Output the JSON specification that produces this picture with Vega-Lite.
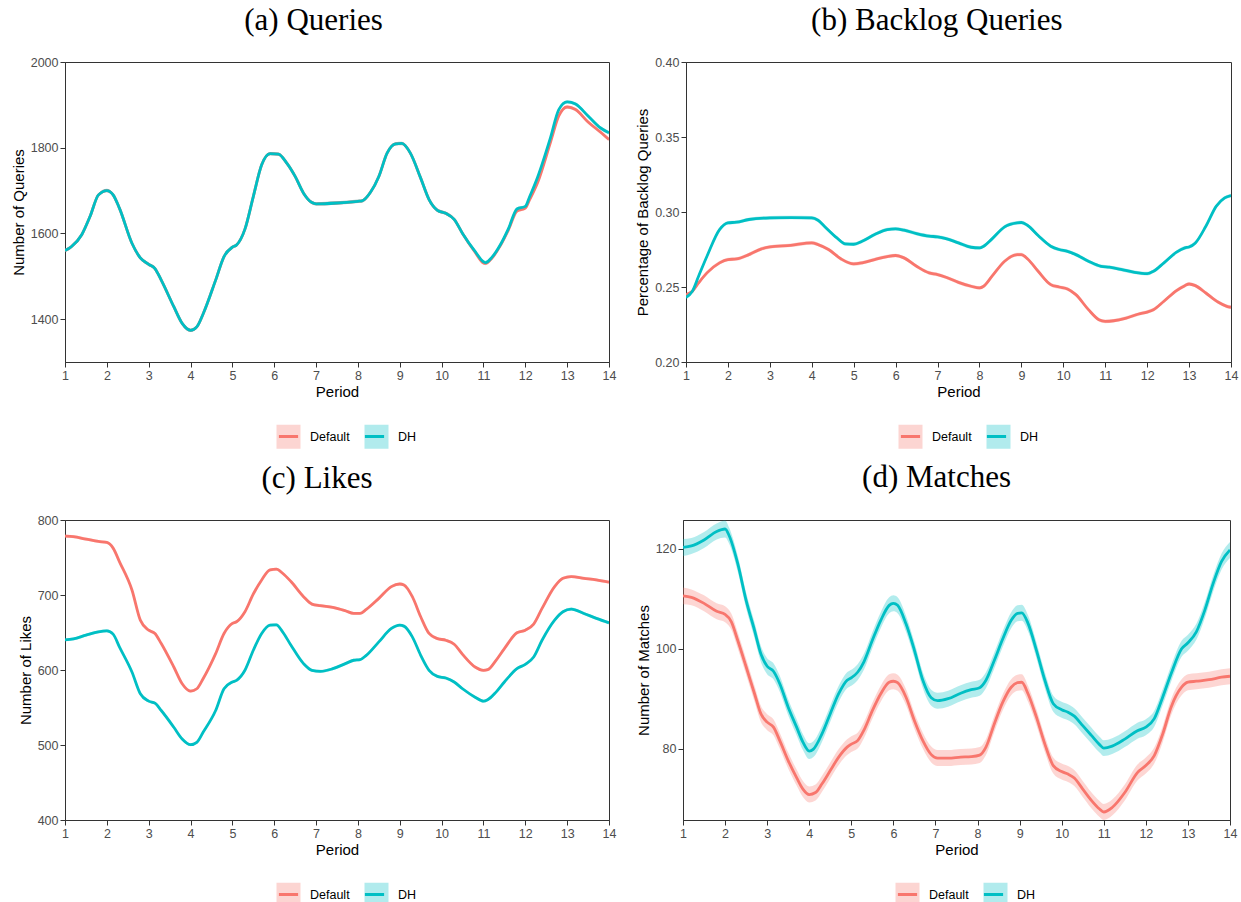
{
"$schema":"https://vega.github.io/schema/vega-lite/v6.json",
"padding":{"left":10,"top":4,"right":2,"bottom":0},
"background":"white",
"config":{
 "view":{"stroke":"#333333","strokeWidth":1},
 "axis":{"labelFont":"Liberation Sans","labelFontSize":12.5,"labelColor":"#4d4d4d","titleFont":"Liberation Sans","titleFontSize":15,"titleFontWeight":"normal","titleColor":"#000000","tickColor":"#333333","domainColor":"#333333","tickSize":5,"labelPadding":2,"grid":false,"titlePadding":4},
 "axisX":{"titlePadding":3,"labelFlush":false},
 "title":{"font":"Liberation Serif","fontSize":31,"fontWeight":"normal","color":"#000000","offset":19,"frame":"bounds"},
 "legend":{"labelFont":"Liberation Sans","labelFontSize":12.5,"labelColor":"#000000","orient":"none","direction":"horizontal","labelOffset":8,"columnPadding":8,"padding":0,"symbolSize":576,"symbolStrokeWidth":3}
},
"datasets":{
"a":[
{"p":1,"g":"Default","v":1560,"lo":1556,"hi":1564},{"p":1.15,"g":"Default","v":1569,"lo":1565,"hi":1573},{"p":1.4,"g":"Default","v":1597,"lo":1593,"hi":1601},{"p":1.6,"g":"Default","v":1640,"lo":1636,"hi":1644},{"p":1.8,"g":"Default","v":1690,"lo":1686,"hi":1694},{"p":2,"g":"Default","v":1700,"lo":1696,"hi":1704},{"p":2.15,"g":"Default","v":1690,"lo":1686,"hi":1694},{"p":2.3,"g":"Default","v":1659,"lo":1655,"hi":1663},{"p":2.6,"g":"Default","v":1577,"lo":1573,"hi":1581},{"p":2.8,"g":"Default","v":1543,"lo":1539,"hi":1547},{"p":3,"g":"Default","v":1528,"lo":1524,"hi":1532},{"p":3.15,"g":"Default","v":1518,"lo":1514,"hi":1522},{"p":3.3,"g":"Default","v":1491,"lo":1487,"hi":1495},{"p":3.6,"g":"Default","v":1429,"lo":1425,"hi":1433},{"p":3.8,"g":"Default","v":1390,"lo":1386,"hi":1394},{"p":4,"g":"Default","v":1374,"lo":1370,"hi":1378},{"p":4.15,"g":"Default","v":1382,"lo":1378,"hi":1386},{"p":4.3,"g":"Default","v":1412,"lo":1408,"hi":1416},{"p":4.6,"g":"Default","v":1491,"lo":1487,"hi":1495},{"p":4.8,"g":"Default","v":1546,"lo":1542,"hi":1550},{"p":5,"g":"Default","v":1568,"lo":1564,"hi":1572},{"p":5.1,"g":"Default","v":1573,"lo":1569,"hi":1577},{"p":5.3,"g":"Default","v":1610,"lo":1606,"hi":1614},{"p":5.5,"g":"Default","v":1686,"lo":1682,"hi":1690},{"p":5.7,"g":"Default","v":1760,"lo":1756,"hi":1764},{"p":5.9,"g":"Default","v":1786,"lo":1782,"hi":1790},{"p":6.1,"g":"Default","v":1785,"lo":1781,"hi":1789},{"p":6.3,"g":"Default","v":1764,"lo":1760,"hi":1768},{"p":6.5,"g":"Default","v":1733,"lo":1729,"hi":1737},{"p":6.7,"g":"Default","v":1694,"lo":1690,"hi":1698},{"p":6.9,"g":"Default","v":1672,"lo":1668,"hi":1676},{"p":7,"g":"Default","v":1669,"lo":1665,"hi":1673},{"p":7.5,"g":"Default","v":1671,"lo":1667,"hi":1675},{"p":8,"g":"Default","v":1675,"lo":1671,"hi":1679},{"p":8.1,"g":"Default","v":1676,"lo":1672,"hi":1680},{"p":8.3,"g":"Default","v":1696,"lo":1692,"hi":1700},{"p":8.5,"g":"Default","v":1733,"lo":1729,"hi":1737},{"p":8.7,"g":"Default","v":1788,"lo":1784,"hi":1792},{"p":8.9,"g":"Default","v":1809,"lo":1805,"hi":1813},{"p":9.05,"g":"Default","v":1810,"lo":1806,"hi":1814},{"p":9.25,"g":"Default","v":1788,"lo":1784,"hi":1792},{"p":9.5,"g":"Default","v":1729,"lo":1725,"hi":1733},{"p":9.7,"g":"Default","v":1679,"lo":1675,"hi":1683},{"p":9.9,"g":"Default","v":1654,"lo":1650,"hi":1658},{"p":10.1,"g":"Default","v":1647,"lo":1643,"hi":1651},{"p":10.3,"g":"Default","v":1633,"lo":1629,"hi":1637},{"p":10.5,"g":"Default","v":1600,"lo":1596,"hi":1604},{"p":10.8,"g":"Default","v":1556,"lo":1552,"hi":1560},{"p":11,"g":"Default","v":1531,"lo":1527,"hi":1535},{"p":11.05,"g":"Default","v":1530,"lo":1526,"hi":1534},{"p":11.2,"g":"Default","v":1542,"lo":1538,"hi":1546},{"p":11.4,"g":"Default","v":1571,"lo":1567,"hi":1575},{"p":11.6,"g":"Default","v":1609,"lo":1605,"hi":1613},{"p":11.8,"g":"Default","v":1652,"lo":1648,"hi":1656},{"p":12,"g":"Default","v":1659,"lo":1655,"hi":1663},{"p":12.1,"g":"Default","v":1678,"lo":1674,"hi":1682},{"p":12.3,"g":"Default","v":1720,"lo":1716,"hi":1724},{"p":12.6,"g":"Default","v":1812,"lo":1808,"hi":1816},{"p":12.8,"g":"Default","v":1874,"lo":1870,"hi":1878},{"p":13,"g":"Default","v":1895,"lo":1891,"hi":1899},{"p":13.2,"g":"Default","v":1889,"lo":1885,"hi":1893},{"p":13.5,"g":"Default","v":1860,"lo":1856,"hi":1864},{"p":13.8,"g":"Default","v":1836,"lo":1832,"hi":1840},{"p":14,"g":"Default","v":1819,"lo":1815,"hi":1823},
{"p":1,"g":"DH","v":1560,"lo":1556,"hi":1564},{"p":1.15,"g":"DH","v":1569,"lo":1565,"hi":1573},{"p":1.4,"g":"DH","v":1597,"lo":1593,"hi":1601},{"p":1.6,"g":"DH","v":1640,"lo":1636,"hi":1644},{"p":1.8,"g":"DH","v":1690,"lo":1686,"hi":1694},{"p":2,"g":"DH","v":1700,"lo":1696,"hi":1704},{"p":2.15,"g":"DH","v":1690,"lo":1686,"hi":1694},{"p":2.3,"g":"DH","v":1659,"lo":1655,"hi":1663},{"p":2.6,"g":"DH","v":1577,"lo":1573,"hi":1581},{"p":2.8,"g":"DH","v":1543,"lo":1539,"hi":1547},{"p":3,"g":"DH","v":1528,"lo":1524,"hi":1532},{"p":3.15,"g":"DH","v":1518,"lo":1514,"hi":1522},{"p":3.3,"g":"DH","v":1491,"lo":1487,"hi":1495},{"p":3.6,"g":"DH","v":1429,"lo":1425,"hi":1433},{"p":3.8,"g":"DH","v":1390,"lo":1386,"hi":1394},{"p":4,"g":"DH","v":1374,"lo":1370,"hi":1378},{"p":4.15,"g":"DH","v":1382,"lo":1378,"hi":1386},{"p":4.3,"g":"DH","v":1412,"lo":1408,"hi":1416},{"p":4.6,"g":"DH","v":1491,"lo":1487,"hi":1495},{"p":4.8,"g":"DH","v":1546,"lo":1542,"hi":1550},{"p":5,"g":"DH","v":1568,"lo":1564,"hi":1572},{"p":5.1,"g":"DH","v":1573,"lo":1569,"hi":1577},{"p":5.3,"g":"DH","v":1610,"lo":1606,"hi":1614},{"p":5.5,"g":"DH","v":1686,"lo":1682,"hi":1690},{"p":5.7,"g":"DH","v":1760,"lo":1756,"hi":1764},{"p":5.9,"g":"DH","v":1786,"lo":1782,"hi":1790},{"p":6.1,"g":"DH","v":1785,"lo":1781,"hi":1789},{"p":6.3,"g":"DH","v":1764,"lo":1760,"hi":1768},{"p":6.5,"g":"DH","v":1733,"lo":1729,"hi":1737},{"p":6.7,"g":"DH","v":1694,"lo":1690,"hi":1698},{"p":6.9,"g":"DH","v":1672,"lo":1668,"hi":1676},{"p":7,"g":"DH","v":1669,"lo":1665,"hi":1673},{"p":7.5,"g":"DH","v":1671,"lo":1667,"hi":1675},{"p":8,"g":"DH","v":1675,"lo":1671,"hi":1679},{"p":8.1,"g":"DH","v":1676,"lo":1672,"hi":1680},{"p":8.3,"g":"DH","v":1696,"lo":1692,"hi":1700},{"p":8.5,"g":"DH","v":1733,"lo":1729,"hi":1737},{"p":8.7,"g":"DH","v":1788,"lo":1784,"hi":1792},{"p":8.9,"g":"DH","v":1809,"lo":1805,"hi":1813},{"p":9.05,"g":"DH","v":1810,"lo":1806,"hi":1814},{"p":9.25,"g":"DH","v":1788,"lo":1784,"hi":1792},{"p":9.5,"g":"DH","v":1729,"lo":1725,"hi":1733},{"p":9.7,"g":"DH","v":1679,"lo":1675,"hi":1683},{"p":9.9,"g":"DH","v":1654,"lo":1650,"hi":1658},{"p":10.1,"g":"DH","v":1647,"lo":1643,"hi":1651},{"p":10.3,"g":"DH","v":1633,"lo":1629,"hi":1637},{"p":10.5,"g":"DH","v":1600,"lo":1596,"hi":1604},{"p":10.8,"g":"DH","v":1558,"lo":1554,"hi":1562},{"p":11,"g":"DH","v":1534,"lo":1530,"hi":1538},{"p":11.05,"g":"DH","v":1532,"lo":1528,"hi":1536},{"p":11.2,"g":"DH","v":1544,"lo":1540,"hi":1548},{"p":11.4,"g":"DH","v":1573,"lo":1569,"hi":1577},{"p":11.6,"g":"DH","v":1612,"lo":1608,"hi":1616},{"p":11.8,"g":"DH","v":1657,"lo":1653,"hi":1661},{"p":12,"g":"DH","v":1663,"lo":1659,"hi":1667},{"p":12.1,"g":"DH","v":1685,"lo":1681,"hi":1689},{"p":12.3,"g":"DH","v":1733,"lo":1729,"hi":1737},{"p":12.6,"g":"DH","v":1823,"lo":1819,"hi":1827},{"p":12.8,"g":"DH","v":1889,"lo":1885,"hi":1893},{"p":13,"g":"DH","v":1907,"lo":1903,"hi":1911},{"p":13.2,"g":"DH","v":1902,"lo":1898,"hi":1906},{"p":13.5,"g":"DH","v":1874,"lo":1870,"hi":1878},{"p":13.8,"g":"DH","v":1846,"lo":1842,"hi":1850},{"p":14,"g":"DH","v":1835,"lo":1831,"hi":1839}
],
"b":[
{"p":1,"g":"Default","v":0.2449,"lo":0.2437,"hi":0.2461},{"p":1.15,"g":"Default","v":0.2471,"lo":0.2459,"hi":0.2483},{"p":1.3,"g":"Default","v":0.2527,"lo":0.2515,"hi":0.2539},{"p":1.5,"g":"Default","v":0.2594,"lo":0.2582,"hi":0.2606},{"p":1.8,"g":"Default","v":0.2661,"lo":0.2649,"hi":0.2673},{"p":2,"g":"Default","v":0.2683,"lo":0.2671,"hi":0.2695},{"p":2.2,"g":"Default","v":0.2687,"lo":0.2675,"hi":0.2699},{"p":2.5,"g":"Default","v":0.2716,"lo":0.2704,"hi":0.2728},{"p":2.8,"g":"Default","v":0.2754,"lo":0.2742,"hi":0.2766},{"p":3,"g":"Default","v":0.2767,"lo":0.2755,"hi":0.2779},{"p":3.5,"g":"Default","v":0.2778,"lo":0.2766,"hi":0.279},{"p":4,"g":"Default","v":0.2794,"lo":0.2782,"hi":0.2806},{"p":4.15,"g":"Default","v":0.2783,"lo":0.2771,"hi":0.2795},{"p":4.4,"g":"Default","v":0.275,"lo":0.2738,"hi":0.2762},{"p":4.7,"g":"Default","v":0.2687,"lo":0.2675,"hi":0.2699},{"p":5,"g":"Default","v":0.2654,"lo":0.2642,"hi":0.2666},{"p":5.2,"g":"Default","v":0.2661,"lo":0.2649,"hi":0.2673},{"p":5.5,"g":"Default","v":0.2683,"lo":0.2671,"hi":0.2695},{"p":5.8,"g":"Default","v":0.2703,"lo":0.2691,"hi":0.2715},{"p":6,"g":"Default","v":0.271,"lo":0.2698,"hi":0.2722},{"p":6.2,"g":"Default","v":0.2694,"lo":0.2682,"hi":0.2706},{"p":6.5,"g":"Default","v":0.2638,"lo":0.2626,"hi":0.265},{"p":6.8,"g":"Default","v":0.2594,"lo":0.2582,"hi":0.2606},{"p":7,"g":"Default","v":0.2583,"lo":0.2571,"hi":0.2595},{"p":7.2,"g":"Default","v":0.2565,"lo":0.2553,"hi":0.2577},{"p":7.5,"g":"Default","v":0.2531,"lo":0.2519,"hi":0.2543},{"p":7.8,"g":"Default","v":0.2505,"lo":0.2493,"hi":0.2517},{"p":8,"g":"Default","v":0.2494,"lo":0.2482,"hi":0.2506},{"p":8.1,"g":"Default","v":0.2505,"lo":0.2493,"hi":0.2517},{"p":8.3,"g":"Default","v":0.2572,"lo":0.256,"hi":0.2584},{"p":8.6,"g":"Default","v":0.2672,"lo":0.266,"hi":0.2684},{"p":8.9,"g":"Default","v":0.2716,"lo":0.2704,"hi":0.2728},{"p":9,"g":"Default","v":0.2716,"lo":0.2704,"hi":0.2728},{"p":9.15,"g":"Default","v":0.2687,"lo":0.2675,"hi":0.2699},{"p":9.4,"g":"Default","v":0.2605,"lo":0.2593,"hi":0.2617},{"p":9.7,"g":"Default","v":0.2516,"lo":0.2504,"hi":0.2528},{"p":9.9,"g":"Default","v":0.25,"lo":0.2488,"hi":0.2512},{"p":10.1,"g":"Default","v":0.2487,"lo":0.2475,"hi":0.2499},{"p":10.3,"g":"Default","v":0.2449,"lo":0.2437,"hi":0.2461},{"p":10.6,"g":"Default","v":0.2349,"lo":0.2337,"hi":0.2361},{"p":10.85,"g":"Default","v":0.2282,"lo":0.227,"hi":0.2294},{"p":11,"g":"Default","v":0.2271,"lo":0.2259,"hi":0.2283},{"p":11.2,"g":"Default","v":0.2275,"lo":0.2263,"hi":0.2287},{"p":11.5,"g":"Default","v":0.2293,"lo":0.2281,"hi":0.2305},{"p":11.8,"g":"Default","v":0.232,"lo":0.2308,"hi":0.2332},{"p":12,"g":"Default","v":0.2333,"lo":0.2321,"hi":0.2345},{"p":12.15,"g":"Default","v":0.2349,"lo":0.2337,"hi":0.2361},{"p":12.4,"g":"Default","v":0.2405,"lo":0.2393,"hi":0.2417},{"p":12.7,"g":"Default","v":0.2476,"lo":0.2464,"hi":0.2488},{"p":12.9,"g":"Default","v":0.2509,"lo":0.2497,"hi":0.2521},{"p":13,"g":"Default","v":0.252,"lo":0.2508,"hi":0.2532},{"p":13.15,"g":"Default","v":0.2509,"lo":0.2497,"hi":0.2521},{"p":13.4,"g":"Default","v":0.246,"lo":0.2448,"hi":0.2472},{"p":13.7,"g":"Default","v":0.2398,"lo":0.2386,"hi":0.241},{"p":13.9,"g":"Default","v":0.2371,"lo":0.2359,"hi":0.2383},{"p":14,"g":"Default","v":0.2365,"lo":0.2353,"hi":0.2377},
{"p":1,"g":"DH","v":0.2431,"lo":0.2419,"hi":0.2443},{"p":1.15,"g":"DH","v":0.2471,"lo":0.2459,"hi":0.2483},{"p":1.3,"g":"DH","v":0.2572,"lo":0.256,"hi":0.2584},{"p":1.5,"g":"DH","v":0.2705,"lo":0.2693,"hi":0.2717},{"p":1.8,"g":"DH","v":0.2883,"lo":0.2871,"hi":0.2895},{"p":2,"g":"DH","v":0.2928,"lo":0.2916,"hi":0.294},{"p":2.2,"g":"DH","v":0.2932,"lo":0.292,"hi":0.2944},{"p":2.5,"g":"DH","v":0.295,"lo":0.2938,"hi":0.2962},{"p":3,"g":"DH","v":0.2961,"lo":0.2949,"hi":0.2973},{"p":3.5,"g":"DH","v":0.2963,"lo":0.2951,"hi":0.2975},{"p":4,"g":"DH","v":0.2961,"lo":0.2949,"hi":0.2973},{"p":4.15,"g":"DH","v":0.2945,"lo":0.2933,"hi":0.2957},{"p":4.3,"g":"DH","v":0.2905,"lo":0.2893,"hi":0.2917},{"p":4.6,"g":"DH","v":0.2827,"lo":0.2815,"hi":0.2839},{"p":4.8,"g":"DH","v":0.2787,"lo":0.2775,"hi":0.2799},{"p":5,"g":"DH","v":0.2785,"lo":0.2773,"hi":0.2797},{"p":5.2,"g":"DH","v":0.2805,"lo":0.2793,"hi":0.2817},{"p":5.5,"g":"DH","v":0.285,"lo":0.2838,"hi":0.2862},{"p":5.8,"g":"DH","v":0.2883,"lo":0.2871,"hi":0.2895},{"p":6,"g":"DH","v":0.2888,"lo":0.2876,"hi":0.29},{"p":6.2,"g":"DH","v":0.2879,"lo":0.2867,"hi":0.2891},{"p":6.5,"g":"DH","v":0.2856,"lo":0.2844,"hi":0.2868},{"p":6.8,"g":"DH","v":0.2839,"lo":0.2827,"hi":0.2851},{"p":7,"g":"DH","v":0.2834,"lo":0.2822,"hi":0.2846},{"p":7.2,"g":"DH","v":0.2823,"lo":0.2811,"hi":0.2835},{"p":7.5,"g":"DH","v":0.2794,"lo":0.2782,"hi":0.2806},{"p":7.8,"g":"DH","v":0.2765,"lo":0.2753,"hi":0.2777},{"p":8,"g":"DH","v":0.2761,"lo":0.2749,"hi":0.2773},{"p":8.1,"g":"DH","v":0.2772,"lo":0.276,"hi":0.2784},{"p":8.3,"g":"DH","v":0.2821,"lo":0.2809,"hi":0.2833},{"p":8.6,"g":"DH","v":0.2901,"lo":0.2889,"hi":0.2913},{"p":8.9,"g":"DH","v":0.2928,"lo":0.2916,"hi":0.294},{"p":9,"g":"DH","v":0.293,"lo":0.2918,"hi":0.2942},{"p":9.15,"g":"DH","v":0.291,"lo":0.2898,"hi":0.2922},{"p":9.4,"g":"DH","v":0.2843,"lo":0.2831,"hi":0.2855},{"p":9.7,"g":"DH","v":0.2772,"lo":0.276,"hi":0.2784},{"p":9.9,"g":"DH","v":0.275,"lo":0.2738,"hi":0.2762},{"p":10.1,"g":"DH","v":0.2738,"lo":0.2726,"hi":0.275},{"p":10.3,"g":"DH","v":0.2716,"lo":0.2704,"hi":0.2728},{"p":10.6,"g":"DH","v":0.2672,"lo":0.266,"hi":0.2684},{"p":10.9,"g":"DH","v":0.2638,"lo":0.2626,"hi":0.265},{"p":11.1,"g":"DH","v":0.2632,"lo":0.262,"hi":0.2644},{"p":11.4,"g":"DH","v":0.2616,"lo":0.2604,"hi":0.2628},{"p":11.7,"g":"DH","v":0.2598,"lo":0.2586,"hi":0.261},{"p":12,"g":"DH","v":0.2589,"lo":0.2577,"hi":0.2601},{"p":12.15,"g":"DH","v":0.2605,"lo":0.2593,"hi":0.2617},{"p":12.4,"g":"DH","v":0.2661,"lo":0.2649,"hi":0.2673},{"p":12.7,"g":"DH","v":0.2732,"lo":0.272,"hi":0.2744},{"p":12.9,"g":"DH","v":0.2761,"lo":0.2749,"hi":0.2773},{"p":13,"g":"DH","v":0.2767,"lo":0.2755,"hi":0.2779},{"p":13.15,"g":"DH","v":0.2794,"lo":0.2782,"hi":0.2806},{"p":13.4,"g":"DH","v":0.2905,"lo":0.2893,"hi":0.2917},{"p":13.65,"g":"DH","v":0.3039,"lo":0.3027,"hi":0.3051},{"p":13.85,"g":"DH","v":0.3094,"lo":0.3082,"hi":0.3106},{"p":14,"g":"DH","v":0.311,"lo":0.3098,"hi":0.3122}
],
"c":[
{"p":1,"g":"Default","v":778.6,"lo":776.6,"hi":780.6},{"p":1.2,"g":"Default","v":777.7,"lo":775.7,"hi":779.7},{"p":1.5,"g":"Default","v":774.6,"lo":772.6,"hi":776.6},{"p":1.8,"g":"Default","v":771.4,"lo":769.4,"hi":773.4},{"p":2,"g":"Default","v":770.1,"lo":768.1,"hi":772.1},{"p":2.15,"g":"Default","v":762.5,"lo":760.5,"hi":764.5},{"p":2.3,"g":"Default","v":744.6,"lo":742.6,"hi":746.6},{"p":2.6,"g":"Default","v":706.7,"lo":704.7,"hi":708.7},{"p":2.8,"g":"Default","v":666.5,"lo":664.5,"hi":668.5},{"p":3,"g":"Default","v":653.1,"lo":651.1,"hi":655.1},{"p":3.15,"g":"Default","v":648.7,"lo":646.7,"hi":650.7},{"p":3.3,"g":"Default","v":635.3,"lo":633.3,"hi":637.3},{"p":3.6,"g":"Default","v":604,"lo":602,"hi":606},{"p":3.8,"g":"Default","v":581.7,"lo":579.7,"hi":583.7},{"p":4,"g":"Default","v":571.9,"lo":569.9,"hi":573.9},{"p":4.15,"g":"Default","v":575,"lo":573,"hi":577},{"p":4.3,"g":"Default","v":588.4,"lo":586.4,"hi":590.4},{"p":4.6,"g":"Default","v":621.9,"lo":619.9,"hi":623.9},{"p":4.8,"g":"Default","v":648.7,"lo":646.7,"hi":650.7},{"p":5,"g":"Default","v":662.1,"lo":660.1,"hi":664.1},{"p":5.1,"g":"Default","v":664.3,"lo":662.3,"hi":666.3},{"p":5.3,"g":"Default","v":677.7,"lo":675.7,"hi":679.7},{"p":5.5,"g":"Default","v":701.3,"lo":699.3,"hi":703.3},{"p":5.7,"g":"Default","v":720.1,"lo":718.1,"hi":722.1},{"p":5.9,"g":"Default","v":733.5,"lo":731.5,"hi":735.5},{"p":6.05,"g":"Default","v":734.4,"lo":732.4,"hi":736.4},{"p":6.2,"g":"Default","v":729,"lo":727,"hi":731},{"p":6.4,"g":"Default","v":717.9,"lo":715.9,"hi":719.9},{"p":6.7,"g":"Default","v":697.8,"lo":695.8,"hi":699.8},{"p":6.9,"g":"Default","v":687.9,"lo":685.9,"hi":689.9},{"p":7.1,"g":"Default","v":685.7,"lo":683.7,"hi":687.7},{"p":7.4,"g":"Default","v":683.5,"lo":681.5,"hi":685.5},{"p":7.7,"g":"Default","v":679,"lo":677,"hi":681},{"p":7.9,"g":"Default","v":675.4,"lo":673.4,"hi":677.4},{"p":8.05,"g":"Default","v":675.4,"lo":673.4,"hi":677.4},{"p":8.2,"g":"Default","v":680.8,"lo":678.8,"hi":682.8},{"p":8.5,"g":"Default","v":695.5,"lo":693.5,"hi":697.5},{"p":8.8,"g":"Default","v":711.2,"lo":709.2,"hi":713.2},{"p":9,"g":"Default","v":714.7,"lo":712.7,"hi":716.7},{"p":9.1,"g":"Default","v":713.4,"lo":711.4,"hi":715.4},{"p":9.3,"g":"Default","v":697.8,"lo":695.8,"hi":699.8},{"p":9.5,"g":"Default","v":671,"lo":669,"hi":673},{"p":9.7,"g":"Default","v":648.7,"lo":646.7,"hi":650.7},{"p":9.9,"g":"Default","v":641.9,"lo":639.9,"hi":643.9},{"p":10.1,"g":"Default","v":639.7,"lo":637.7,"hi":641.7},{"p":10.3,"g":"Default","v":634.4,"lo":632.4,"hi":636.4},{"p":10.5,"g":"Default","v":620.9,"lo":618.9,"hi":622.9},{"p":10.8,"g":"Default","v":604,"lo":602,"hi":606},{"p":11,"g":"Default","v":599.6,"lo":597.6,"hi":601.6},{"p":11.1,"g":"Default","v":600.4,"lo":598.4,"hi":602.4},{"p":11.3,"g":"Default","v":612.9,"lo":610.9,"hi":614.9},{"p":11.5,"g":"Default","v":628.6,"lo":626.6,"hi":630.6},{"p":11.8,"g":"Default","v":649.6,"lo":647.6,"hi":651.6},{"p":12,"g":"Default","v":653.1,"lo":651.1,"hi":655.1},{"p":12.2,"g":"Default","v":661.2,"lo":659.2,"hi":663.2},{"p":12.4,"g":"Default","v":682.1,"lo":680.1,"hi":684.1},{"p":12.7,"g":"Default","v":711.2,"lo":709.2,"hi":713.2},{"p":12.9,"g":"Default","v":722.3,"lo":720.3,"hi":724.3},{"p":13.1,"g":"Default","v":724.6,"lo":722.6,"hi":726.6},{"p":13.4,"g":"Default","v":722.3,"lo":720.3,"hi":724.3},{"p":13.7,"g":"Default","v":720.1,"lo":718.1,"hi":722.1},{"p":14,"g":"Default","v":717,"lo":715,"hi":719},
{"p":1,"g":"DH","v":640.2,"lo":638.2,"hi":642.2},{"p":1.2,"g":"DH","v":641.5,"lo":639.5,"hi":643.5},{"p":1.5,"g":"DH","v":646.4,"lo":644.4,"hi":648.4},{"p":1.8,"g":"DH","v":650.9,"lo":648.9,"hi":652.9},{"p":2,"g":"DH","v":652.2,"lo":650.2,"hi":654.2},{"p":2.15,"g":"DH","v":647.8,"lo":645.8,"hi":649.8},{"p":2.3,"g":"DH","v":630.8,"lo":628.8,"hi":632.8},{"p":2.6,"g":"DH","v":597.3,"lo":595.3,"hi":599.3},{"p":2.8,"g":"DH","v":568.3,"lo":566.3,"hi":570.3},{"p":3,"g":"DH","v":558.5,"lo":556.5,"hi":560.5},{"p":3.15,"g":"DH","v":555.8,"lo":553.8,"hi":557.8},{"p":3.3,"g":"DH","v":546,"lo":544,"hi":548},{"p":3.6,"g":"DH","v":523.7,"lo":521.7,"hi":525.7},{"p":3.8,"g":"DH","v":508,"lo":506,"hi":510},{"p":4,"g":"DH","v":500.4,"lo":498.4,"hi":502.4},{"p":4.15,"g":"DH","v":503.6,"lo":501.6,"hi":505.6},{"p":4.3,"g":"DH","v":517,"lo":515,"hi":519},{"p":4.6,"g":"DH","v":546,"lo":544,"hi":548},{"p":4.8,"g":"DH","v":575,"lo":573,"hi":577},{"p":5,"g":"DH","v":583.9,"lo":581.9,"hi":585.9},{"p":5.1,"g":"DH","v":586.2,"lo":584.2,"hi":588.2},{"p":5.3,"g":"DH","v":599.6,"lo":597.6,"hi":601.6},{"p":5.5,"g":"DH","v":626.3,"lo":624.3,"hi":628.3},{"p":5.7,"g":"DH","v":648.7,"lo":646.7,"hi":650.7},{"p":5.9,"g":"DH","v":659.8,"lo":657.8,"hi":661.8},{"p":6.05,"g":"DH","v":660.3,"lo":658.3,"hi":662.3},{"p":6.2,"g":"DH","v":650.9,"lo":648.9,"hi":652.9},{"p":6.4,"g":"DH","v":633,"lo":631,"hi":635},{"p":6.7,"g":"DH","v":608.5,"lo":606.5,"hi":610.5},{"p":6.9,"g":"DH","v":599.6,"lo":597.6,"hi":601.6},{"p":7.1,"g":"DH","v":598.2,"lo":596.2,"hi":600.2},{"p":7.4,"g":"DH","v":601.8,"lo":599.8,"hi":603.8},{"p":7.7,"g":"DH","v":608.5,"lo":606.5,"hi":610.5},{"p":7.9,"g":"DH","v":613,"lo":611,"hi":615},{"p":8.05,"g":"DH","v":613.8,"lo":611.8,"hi":615.8},{"p":8.2,"g":"DH","v":619.6,"lo":617.6,"hi":621.6},{"p":8.5,"g":"DH","v":637.5,"lo":635.5,"hi":639.5},{"p":8.8,"g":"DH","v":655.4,"lo":653.4,"hi":657.4},{"p":9,"g":"DH","v":659.8,"lo":657.8,"hi":661.8},{"p":9.1,"g":"DH","v":658.5,"lo":656.5,"hi":660.5},{"p":9.3,"g":"DH","v":644.2,"lo":642.2,"hi":646.2},{"p":9.5,"g":"DH","v":619.6,"lo":617.6,"hi":621.6},{"p":9.7,"g":"DH","v":599.6,"lo":597.6,"hi":601.6},{"p":9.9,"g":"DH","v":591.5,"lo":589.5,"hi":593.5},{"p":10.1,"g":"DH","v":589.3,"lo":587.3,"hi":591.3},{"p":10.3,"g":"DH","v":584,"lo":582,"hi":586},{"p":10.5,"g":"DH","v":575,"lo":573,"hi":577},{"p":10.8,"g":"DH","v":563.8,"lo":561.8,"hi":565.8},{"p":11,"g":"DH","v":558.5,"lo":556.5,"hi":560.5},{"p":11.1,"g":"DH","v":560.3,"lo":558.3,"hi":562.3},{"p":11.3,"g":"DH","v":570.5,"lo":568.5,"hi":572.5},{"p":11.5,"g":"DH","v":584,"lo":582,"hi":586},{"p":11.8,"g":"DH","v":601.8,"lo":599.8,"hi":603.8},{"p":12,"g":"DH","v":607.6,"lo":605.6,"hi":609.6},{"p":12.2,"g":"DH","v":617.4,"lo":615.4,"hi":619.4},{"p":12.4,"g":"DH","v":639.7,"lo":637.7,"hi":641.7},{"p":12.7,"g":"DH","v":666.5,"lo":664.5,"hi":668.5},{"p":12.9,"g":"DH","v":677.7,"lo":675.7,"hi":679.7},{"p":13.1,"g":"DH","v":681.3,"lo":679.3,"hi":683.3},{"p":13.4,"g":"DH","v":675.4,"lo":673.4,"hi":677.4},{"p":13.7,"g":"DH","v":668.8,"lo":666.8,"hi":670.8},{"p":14,"g":"DH","v":662.9,"lo":660.9,"hi":664.9}
],
"d":[
{"p":1,"g":"Default","v":110.6,"lo":108.9,"hi":112.3},{"p":1.2,"g":"Default","v":110.3,"lo":108.7,"hi":111.9},{"p":1.5,"g":"Default","v":109.1,"lo":107.5,"hi":110.7},{"p":1.8,"g":"Default","v":107.5,"lo":105.9,"hi":109.1},{"p":2,"g":"Default","v":106.9,"lo":105.3,"hi":108.5},{"p":2.15,"g":"Default","v":105.4,"lo":103.8,"hi":107},{"p":2.3,"g":"Default","v":101.7,"lo":100.1,"hi":103.3},{"p":2.5,"g":"Default","v":96.4,"lo":94.8,"hi":98},{"p":2.7,"g":"Default","v":91,"lo":89.4,"hi":92.6},{"p":2.85,"g":"Default","v":87,"lo":85.4,"hi":88.6},{"p":3,"g":"Default","v":85.3,"lo":83.7,"hi":86.9},{"p":3.15,"g":"Default","v":84.3,"lo":82.7,"hi":85.9},{"p":3.3,"g":"Default","v":81.6,"lo":80,"hi":83.2},{"p":3.5,"g":"Default","v":77.6,"lo":76,"hi":79.2},{"p":3.7,"g":"Default","v":74.2,"lo":72.6,"hi":75.8},{"p":3.85,"g":"Default","v":71.9,"lo":70.3,"hi":73.5},{"p":4,"g":"Default","v":70.8,"lo":69.2,"hi":72.4},{"p":4.15,"g":"Default","v":71.2,"lo":69.6,"hi":72.8},{"p":4.3,"g":"Default","v":72.9,"lo":71.3,"hi":74.5},{"p":4.5,"g":"Default","v":75.6,"lo":74,"hi":77.2},{"p":4.7,"g":"Default","v":78.3,"lo":76.7,"hi":79.9},{"p":4.9,"g":"Default","v":80.3,"lo":78.7,"hi":81.9},{"p":5,"g":"Default","v":80.9,"lo":79.3,"hi":82.5},{"p":5.15,"g":"Default","v":81.6,"lo":80,"hi":83.2},{"p":5.3,"g":"Default","v":83.7,"lo":82.1,"hi":85.3},{"p":5.5,"g":"Default","v":87.6,"lo":86,"hi":89.2},{"p":5.7,"g":"Default","v":91,"lo":89.4,"hi":92.6},{"p":5.9,"g":"Default","v":93.3,"lo":91.7,"hi":94.9},{"p":6,"g":"Default","v":93.5,"lo":91.9,"hi":95.1},{"p":6.1,"g":"Default","v":93.2,"lo":91.6,"hi":94.8},{"p":6.3,"g":"Default","v":90.3,"lo":88.7,"hi":91.9},{"p":6.5,"g":"Default","v":85.6,"lo":84,"hi":87.2},{"p":6.7,"g":"Default","v":81.6,"lo":80,"hi":83.2},{"p":6.9,"g":"Default","v":78.8,"lo":77.2,"hi":80.4},{"p":7.05,"g":"Default","v":78.1,"lo":76.5,"hi":79.7},{"p":7.3,"g":"Default","v":78.1,"lo":76.5,"hi":79.7},{"p":7.6,"g":"Default","v":78.3,"lo":76.7,"hi":79.9},{"p":7.85,"g":"Default","v":78.4,"lo":76.8,"hi":80},{"p":8.05,"g":"Default","v":78.7,"lo":77.1,"hi":80.3},{"p":8.2,"g":"Default","v":80.3,"lo":78.7,"hi":81.9},{"p":8.4,"g":"Default","v":85,"lo":83.4,"hi":86.6},{"p":8.6,"g":"Default","v":89.3,"lo":87.7,"hi":90.9},{"p":8.8,"g":"Default","v":92.3,"lo":90.7,"hi":93.9},{"p":8.95,"g":"Default","v":93.2,"lo":91.6,"hi":94.8},{"p":9.05,"g":"Default","v":93.3,"lo":91.7,"hi":94.9},{"p":9.2,"g":"Default","v":91,"lo":89.4,"hi":92.6},{"p":9.4,"g":"Default","v":86.3,"lo":84.7,"hi":87.9},{"p":9.6,"g":"Default","v":80.9,"lo":79.3,"hi":82.5},{"p":9.8,"g":"Default","v":76.6,"lo":75,"hi":78.2},{"p":10,"g":"Default","v":75.4,"lo":73.8,"hi":77},{"p":10.15,"g":"Default","v":74.9,"lo":73.3,"hi":76.5},{"p":10.3,"g":"Default","v":74.1,"lo":72.5,"hi":75.7},{"p":10.5,"g":"Default","v":71.9,"lo":70.3,"hi":73.5},{"p":10.7,"g":"Default","v":69.7,"lo":68.1,"hi":71.3},{"p":10.9,"g":"Default","v":67.9,"lo":66.3,"hi":69.5},{"p":11,"g":"Default","v":67.3,"lo":65.7,"hi":68.9},{"p":11.2,"g":"Default","v":68.2,"lo":66.6,"hi":69.8},{"p":11.5,"g":"Default","v":71.2,"lo":69.6,"hi":72.8},{"p":11.8,"g":"Default","v":75.2,"lo":73.6,"hi":76.8},{"p":12,"g":"Default","v":76.6,"lo":75,"hi":78.2},{"p":12.2,"g":"Default","v":78.6,"lo":77,"hi":80.2},{"p":12.4,"g":"Default","v":82.9,"lo":81.3,"hi":84.5},{"p":12.6,"g":"Default","v":88.3,"lo":86.7,"hi":89.9},{"p":12.85,"g":"Default","v":92.3,"lo":90.7,"hi":93.9},{"p":13,"g":"Default","v":93.3,"lo":91.7,"hi":94.9},{"p":13.2,"g":"Default","v":93.5,"lo":91.9,"hi":95.1},{"p":13.5,"g":"Default","v":93.8,"lo":92.2,"hi":95.4},{"p":13.8,"g":"Default","v":94.3,"lo":92.7,"hi":95.9},{"p":14,"g":"Default","v":94.5,"lo":92.9,"hi":96.1},
{"p":1,"g":"DH","v":120.3,"lo":118.6,"hi":122},{"p":1.2,"g":"DH","v":120.6,"lo":119,"hi":122.2},{"p":1.5,"g":"DH","v":121.8,"lo":120.2,"hi":123.4},{"p":1.8,"g":"DH","v":123.5,"lo":121.9,"hi":125.1},{"p":2,"g":"DH","v":124,"lo":122.3,"hi":125.7},{"p":2.1,"g":"DH","v":122.6,"lo":121,"hi":124.2},{"p":2.3,"g":"DH","v":117.1,"lo":115.5,"hi":118.7},{"p":2.5,"g":"DH","v":109.7,"lo":108.1,"hi":111.3},{"p":2.7,"g":"DH","v":103.7,"lo":102.1,"hi":105.3},{"p":2.85,"g":"DH","v":99,"lo":97.4,"hi":100.6},{"p":3,"g":"DH","v":96.5,"lo":94.9,"hi":98.1},{"p":3.15,"g":"DH","v":95.5,"lo":93.9,"hi":97.1},{"p":3.3,"g":"DH","v":93,"lo":91.4,"hi":94.6},{"p":3.5,"g":"DH","v":88.3,"lo":86.7,"hi":89.9},{"p":3.7,"g":"DH","v":84.3,"lo":82.7,"hi":85.9},{"p":3.85,"g":"DH","v":81.3,"lo":79.7,"hi":82.9},{"p":4,"g":"DH","v":79.5,"lo":77.9,"hi":81.1},{"p":4.1,"g":"DH","v":79.9,"lo":78.3,"hi":81.5},{"p":4.3,"g":"DH","v":82.9,"lo":81.3,"hi":84.5},{"p":4.5,"g":"DH","v":87,"lo":85.4,"hi":88.6},{"p":4.7,"g":"DH","v":91,"lo":89.4,"hi":92.6},{"p":4.9,"g":"DH","v":93.7,"lo":92.1,"hi":95.3},{"p":5,"g":"DH","v":94.2,"lo":92.6,"hi":95.8},{"p":5.15,"g":"DH","v":95.3,"lo":93.7,"hi":96.9},{"p":5.3,"g":"DH","v":97.4,"lo":95.8,"hi":99},{"p":5.5,"g":"DH","v":101.7,"lo":100.1,"hi":103.3},{"p":5.7,"g":"DH","v":105.7,"lo":104.1,"hi":107.3},{"p":5.9,"g":"DH","v":108.7,"lo":107.1,"hi":110.3},{"p":6,"g":"DH","v":109.1,"lo":107.5,"hi":110.7},{"p":6.1,"g":"DH","v":108.7,"lo":107.1,"hi":110.3},{"p":6.3,"g":"DH","v":105,"lo":103.4,"hi":106.6},{"p":6.5,"g":"DH","v":99.7,"lo":98.1,"hi":101.3},{"p":6.7,"g":"DH","v":93.7,"lo":92.1,"hi":95.3},{"p":6.9,"g":"DH","v":90.2,"lo":88.6,"hi":91.8},{"p":7.05,"g":"DH","v":89.6,"lo":88,"hi":91.2},{"p":7.3,"g":"DH","v":90,"lo":88.4,"hi":91.6},{"p":7.6,"g":"DH","v":91.1,"lo":89.5,"hi":92.7},{"p":7.85,"g":"DH","v":91.8,"lo":90.2,"hi":93.4},{"p":8.05,"g":"DH","v":92.2,"lo":90.6,"hi":93.8},{"p":8.2,"g":"DH","v":93.7,"lo":92.1,"hi":95.3},{"p":8.4,"g":"DH","v":97.7,"lo":96.1,"hi":99.3},{"p":8.6,"g":"DH","v":102,"lo":100.4,"hi":103.6},{"p":8.8,"g":"DH","v":105.7,"lo":104.1,"hi":107.3},{"p":8.95,"g":"DH","v":107.1,"lo":105.5,"hi":108.7},{"p":9.05,"g":"DH","v":107.2,"lo":105.6,"hi":108.8},{"p":9.2,"g":"DH","v":105.1,"lo":103.5,"hi":106.7},{"p":9.4,"g":"DH","v":99.7,"lo":98.1,"hi":101.3},{"p":9.6,"g":"DH","v":93.7,"lo":92.1,"hi":95.3},{"p":9.8,"g":"DH","v":89,"lo":87.4,"hi":90.6},{"p":10,"g":"DH","v":87.8,"lo":86.2,"hi":89.4},{"p":10.15,"g":"DH","v":87.3,"lo":85.7,"hi":88.9},{"p":10.3,"g":"DH","v":86.5,"lo":84.9,"hi":88.1},{"p":10.5,"g":"DH","v":84.6,"lo":83,"hi":86.2},{"p":10.7,"g":"DH","v":82.7,"lo":81.1,"hi":84.3},{"p":10.9,"g":"DH","v":80.8,"lo":79.2,"hi":82.4},{"p":11,"g":"DH","v":80.1,"lo":78.5,"hi":81.7},{"p":11.2,"g":"DH","v":80.5,"lo":78.9,"hi":82.1},{"p":11.5,"g":"DH","v":81.9,"lo":80.3,"hi":83.5},{"p":11.8,"g":"DH","v":83.6,"lo":82,"hi":85.2},{"p":12,"g":"DH","v":84.3,"lo":82.7,"hi":85.9},{"p":12.2,"g":"DH","v":86,"lo":84.4,"hi":87.6},{"p":12.4,"g":"DH","v":90.3,"lo":88.7,"hi":91.9},{"p":12.6,"g":"DH","v":95,"lo":93.4,"hi":96.6},{"p":12.85,"g":"DH","v":100,"lo":98.4,"hi":101.6},{"p":13,"g":"DH","v":101.2,"lo":99.6,"hi":102.8},{"p":13.2,"g":"DH","v":103.4,"lo":101.8,"hi":105},{"p":13.4,"g":"DH","v":107.7,"lo":106.1,"hi":109.3},{"p":13.6,"g":"DH","v":113.1,"lo":111.5,"hi":114.7},{"p":13.8,"g":"DH","v":117.5,"lo":115.9,"hi":119.1},{"p":14,"g":"DH","v":119.8,"lo":118.2,"hi":121.4}
]
},
"columns":2,
"spacing":{"row":5,"column":18},
"align":{"row":"all","column":"none"},
"resolve":{"scale":{"fill":"independent","stroke":"independent"},"legend":{"fill":"independent","stroke":"independent"}},
"concat":[
 {"width":544,"height":300,"title":"(a) Queries","data":{"name":"a"},
  "encoding":{"x":{"field":"p","type":"quantitative","scale":{"domain":[1,14],"nice":false,"zero":false},"axis":{"values":[1,2,3,4,5,6,7,8,9,10,11,12,13,14],"title":"Period","format":"d"}}},
  "layer":[
   {"mark":{"type":"area","opacity":0.3,"interpolate":"monotone","clip":true},
    "encoding":{"y":{"field":"lo","type":"quantitative","stack":null,"scale":{"domain":[1300,2000],"nice":false,"zero":false},"axis":{"values":[1400,1600,1800,2000],"format":"d","title":"Number of Queries"}},"y2":{"field":"hi"},
     "fill":{"field":"g","type":"nominal","sort":["Default","DH"],"scale":{"range":["#F8766D","#00BFC4"]},"legend":{"title":null,"legendX":210,"legendY":361,"symbolType":"square","symbolStrokeColor":"transparent"}}}},
   {"mark":{"type":"line","strokeWidth":2.8,"interpolate":"monotone","clip":true},
    "encoding":{"y":{"field":"v","type":"quantitative","scale":{"domain":[1300,2000],"nice":false,"zero":false},"axis":{"values":[1400,1600,1800,2000],"format":"d","title":"Number of Queries"}},
     "stroke":{"field":"g","type":"nominal","scale":{"domain":["Default","DH"],"range":["#F8766D","#00BFC4"]},"legend":{"title":null,"legendX":210,"legendY":361,"symbolType":"M-0.8,0H0.8","labelOpacity":0}}}}
  ]},
 {"width":545,"height":300,"title":"(b) Backlog Queries","data":{"name":"b"},
  "encoding":{"x":{"field":"p","type":"quantitative","scale":{"domain":[1,14],"nice":false,"zero":false},"axis":{"values":[1,2,3,4,5,6,7,8,9,10,11,12,13,14],"title":"Period","format":"d"}}},
  "layer":[
   {"mark":{"type":"area","opacity":0.3,"interpolate":"monotone","clip":true},
    "encoding":{"y":{"field":"lo","type":"quantitative","stack":null,"scale":{"domain":[0.2,0.4],"nice":false,"zero":false},"axis":{"values":[0.2,0.25,0.3,0.35,0.4],"format":".2f","title":"Percentage of Backlog Queries"}},"y2":{"field":"hi"},
     "fill":{"field":"g","type":"nominal","sort":["Default","DH"],"scale":{"range":["#F8766D","#00BFC4"]},"legend":{"title":null,"legendX":211,"legendY":361,"symbolType":"square","symbolStrokeColor":"transparent"}}}},
   {"mark":{"type":"line","strokeWidth":2.8,"interpolate":"monotone","clip":true},
    "encoding":{"y":{"field":"v","type":"quantitative","scale":{"domain":[0.2,0.4],"nice":false,"zero":false},"axis":{"values":[0.2,0.25,0.3,0.35,0.4],"format":".2f","title":"Percentage of Backlog Queries"}},
     "stroke":{"field":"g","type":"nominal","scale":{"domain":["Default","DH"],"range":["#F8766D","#00BFC4"]},"legend":{"title":null,"legendX":211,"legendY":361,"symbolType":"M-0.8,0H0.8","labelOpacity":0}}}}
  ]},
 {"width":544,"height":300,"title":"(c) Likes","data":{"name":"c"},
  "encoding":{"x":{"field":"p","type":"quantitative","scale":{"domain":[1,14],"nice":false,"zero":false},"axis":{"values":[1,2,3,4,5,6,7,8,9,10,11,12,13,14],"title":"Period","format":"d"}}},
  "layer":[
   {"mark":{"type":"area","opacity":0.3,"interpolate":"monotone","clip":true},
    "encoding":{"y":{"field":"lo","type":"quantitative","stack":null,"scale":{"domain":[400,800],"nice":false,"zero":false},"axis":{"values":[400,500,600,700,800],"format":"d","title":"Number of Likes"}},"y2":{"field":"hi"},
     "fill":{"field":"g","type":"nominal","sort":["Default","DH"],"scale":{"range":["#F8766D","#00BFC4"]},"legend":{"title":null,"legendX":210,"legendY":361,"symbolType":"square","symbolStrokeColor":"transparent"}}}},
   {"mark":{"type":"line","strokeWidth":2.8,"interpolate":"monotone","clip":true},
    "encoding":{"y":{"field":"v","type":"quantitative","scale":{"domain":[400,800],"nice":false,"zero":false},"axis":{"values":[400,500,600,700,800],"format":"d","title":"Number of Likes"}},
     "stroke":{"field":"g","type":"nominal","scale":{"domain":["Default","DH"],"range":["#F8766D","#00BFC4"]},"legend":{"title":null,"legendX":210,"legendY":361,"symbolType":"M-0.8,0H0.8","labelOpacity":0}}}}
  ]},
 {"width":547,"height":300,"title":{"text":"(d) Matches","offset":26},"data":{"name":"d"},
  "encoding":{"x":{"field":"p","type":"quantitative","scale":{"domain":[1,14],"nice":false,"zero":false},"axis":{"values":[1,2,3,4,5,6,7,8,9,10,11,12,13,14],"title":"Period","format":"d"}}},
  "layer":[
   {"mark":{"type":"area","opacity":0.3,"interpolate":"monotone","clip":true},
    "encoding":{"y":{"field":"lo","type":"quantitative","stack":null,"scale":{"domain":[65.7,125.8],"nice":false,"zero":false},"axis":{"values":[80,100,120],"format":"d","title":"Number of Matches"}},"y2":{"field":"hi"},
     "fill":{"field":"g","type":"nominal","sort":["Default","DH"],"scale":{"range":["#F8766D","#00BFC4"]},"legend":{"title":null,"legendX":211,"legendY":361,"symbolType":"square","symbolStrokeColor":"transparent"}}}},
   {"mark":{"type":"line","strokeWidth":2.8,"interpolate":"monotone","clip":true},
    "encoding":{"y":{"field":"v","type":"quantitative","scale":{"domain":[65.7,125.8],"nice":false,"zero":false},"axis":{"values":[80,100,120],"format":"d","title":"Number of Matches"}},
     "stroke":{"field":"g","type":"nominal","scale":{"domain":["Default","DH"],"range":["#F8766D","#00BFC4"]},"legend":{"title":null,"legendX":211,"legendY":361,"symbolType":"M-0.8,0H0.8","labelOpacity":0}}}}
  ]}
]
}
